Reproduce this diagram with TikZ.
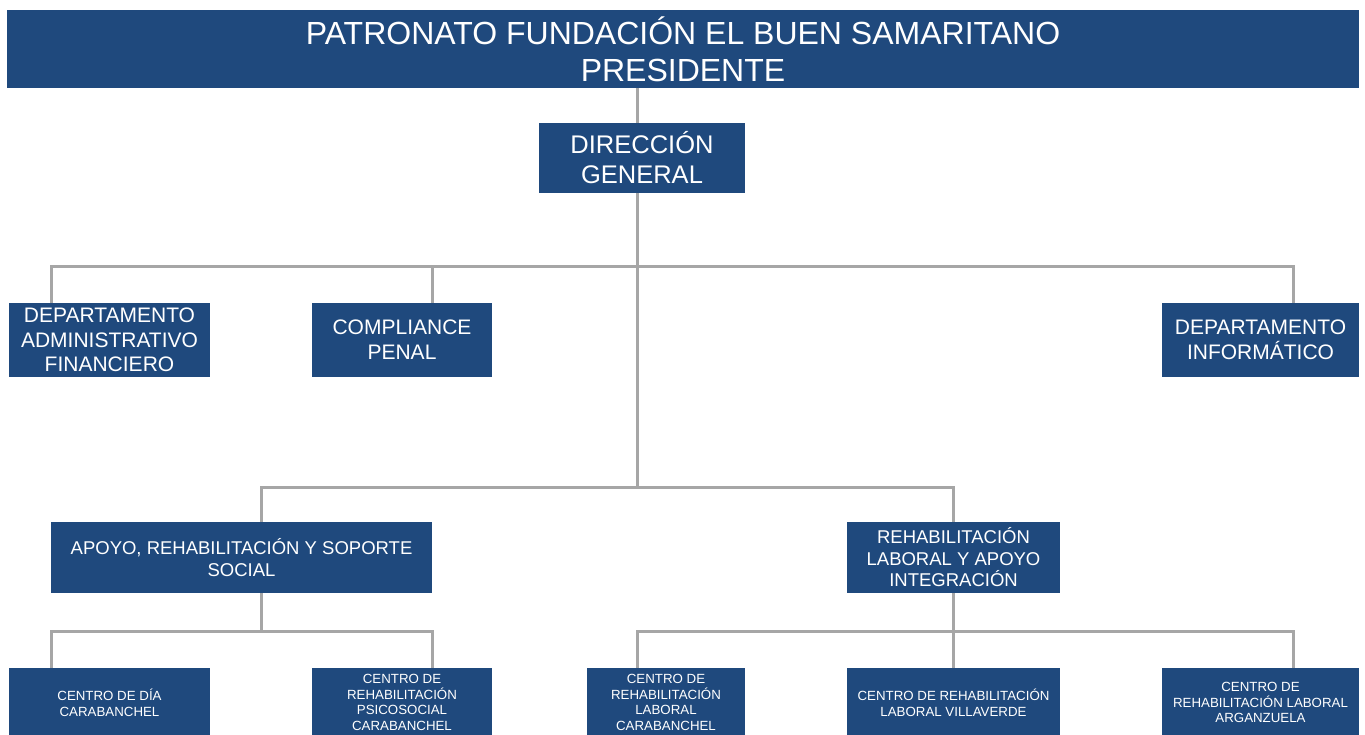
\documentclass[tikz,border=0pt]{standalone}
\usepackage{fontspec}
\setmainfont{Liberation Sans}
\definecolor{boxblue}{HTML}{1F497D}
\definecolor{linegray}{HTML}{A6A6A6}
\begin{document}
\begin{tikzpicture}[x=1pt,y=-1pt,
  box/.style={fill=boxblue,text=white,inner sep=0pt,align=center,anchor=center},
  conn/.style={draw=linegray,line width=3pt},
  ftitle/.style={font=\fontsize{32}{37}\selectfont},
  fdg/.style={font=\fontsize{25.5}{30}\selectfont},
  fmid/.style={font=\fontsize{21}{24.7}\selectfont},
  fsub/.style={font=\fontsize{18.5}{21.5}\selectfont},
  fsmall/.style={font=\fontsize{13.3}{15.6}\selectfont}]
\useasboundingbox[fill=white] (0,0) rectangle (1365,734);
\begin{scope}
\clip (0,0) rectangle (1365,734);
% coordinates for connector x positions
\coordinate (xa) at (51,0);
\coordinate (xb) at (432,0);
\coordinate (xc) at (637,0);
\coordinate (xd) at (1293,0);
\coordinate (xe) at (261,0);
\coordinate (xf) at (953,0);
\coordinate (bus1) at (0,266);
\coordinate (bus2) at (0,487);
\coordinate (bus3) at (0,631);

% nodes
\node[box,ftitle,minimum width=1352,minimum height=78] (top) at (683,49) {PATRONATO FUNDACIÓN EL BUEN SAMARITANO\\PRESIDENTE};
\node[box,fdg,minimum width=206,minimum height=70] (dg) at (642,158) {DIRECCIÓN\\GENERAL};
\node[box,fmid,minimum width=201,minimum height=74] (daf) at (109.5,340) {DEPARTAMENTO\\ADMINISTRATIVO\\FINANCIERO};
\node[box,fmid,minimum width=180,minimum height=74] (cp) at (402,340) {COMPLIANCE\\PENAL};
\node[box,fmid,minimum width=197,minimum height=74] (di) at (1260.5,340) {DEPARTAMENTO\\INFORMÁTICO};
\node[box,fsub,minimum width=381,minimum height=71] (ap) at (241.5,557.5) {APOYO, REHABILITACIÓN Y SOPORTE\\SOCIAL};
\node[box,fsub,minimum width=213,minimum height=71] (rl) at (953.5,557.5) {REHABILITACIÓN\\LABORAL Y APOYO\\INTEGRACIÓN};
\node[box,fsmall,minimum width=201,minimum height=69] (cd) at (109.5,702.5) {CENTRO DE DÍA\\CARABANCHEL};
\node[box,fsmall,minimum width=180,minimum height=69] (crps) at (402,702.5) {CENTRO DE\\REHABILITACIÓN\\PSICOSOCIAL\\CARABANCHEL};
\node[box,fsmall,minimum width=158,minimum height=69] (crlc) at (666,702.5) {CENTRO DE\\REHABILITACIÓN\\LABORAL\\CARABANCHEL};
\node[box,fsmall,minimum width=213,minimum height=69] (crlv) at (953.5,702.5) {CENTRO DE REHABILITACIÓN\\LABORAL VILLAVERDE};
\node[box,fsmall,minimum width=197,minimum height=69] (crla) at (1260.5,702.5) {CENTRO DE\\REHABILITACIÓN LABORAL\\ARGANZUELA};

% connectors
\draw[conn] (top.south -| xc) -- (dg.north -| xc);
\draw[conn] (dg.south -| xc) -- (bus2 -| xc);
\draw[conn] (daf.north -| xa) -- (bus1 -| xa) -- (bus1 -| xd) -- (di.north -| xd);
\draw[conn] (cp.north -| xb) -- (bus1 -| xb);
\draw[conn] (ap.north -| xe) -- (bus2 -| xe) -- (bus2 -| xf) -- (rl.north -| xf);
\draw[conn] (ap.south -| xe) -- (bus3 -| xe);
\draw[conn] (cd.north -| xa) -- (bus3 -| xa) -- (bus3 -| xb) -- (crps.north -| xb);
\draw[conn] (rl.south -| xf) -- (crlv.north -| xf);
\draw[conn] (crlc.north -| xc) -- (bus3 -| xc) -- (bus3 -| xd) -- (crla.north -| xd);
\end{scope}
\end{tikzpicture}
\end{document}
